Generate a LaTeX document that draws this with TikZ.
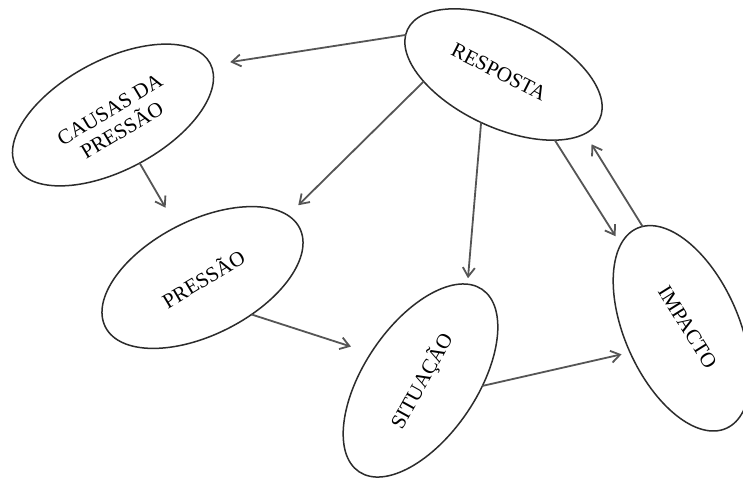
\documentclass[tikz,border=0pt]{standalone}
\usepackage{fontspec}
\setmainfont{Liberation Serif}
\usetikzlibrary{arrows.meta,shapes.geometric}
\definecolor{rim}{HTML}{2B2B2B}
\definecolor{flowgray}{HTML}{555555}
\begin{document}
\begin{tikzpicture}[x=1pt,y=-1pt,
  bubble/.style={ellipse,draw=rim,line width=1.5pt,inner sep=0pt,outer sep=0pt},
  caption/.style={font=\fontsize{21}{24}\selectfont,align=center,text=black,inner sep=0pt},
  flow/.style={draw=flowgray,line width=1.8pt,-{Straight Barb[length=9pt,width=12pt]}}]

% page frame
\path[use as bounding box,fill=white] (0,0) rectangle (743,477);
\clip (0,0) rectangle (743,477);

% ellipses
\node[bubble,minimum width=220pt,minimum height=110pt,rotate=28]  (causes)   at (113,115)     {};
\node[bubble,minimum width=212pt,minimum height=106pt,rotate=-25] (answer)   at (503.5,74.5)  {};
\node[bubble,minimum width=218pt,minimum height=114pt,rotate=27]  (pressure) at (202.5,277.5) {};
\node[bubble,minimum width=220pt,minimum height=113pt,rotate=56]  (state)    at (420.5,380.5) {};
\node[bubble,minimum width=219pt,minimum height=114pt,rotate=-66] (impact)   at (681.7,328.3) {};

% labels
\node[caption,rotate=31]  (causesT)   at (116,120) {CAUSAS DA\\PRESSÃO};
\node[caption,rotate=-27] (answerT)   at (499,72)  {RESPOSTA};
\node[caption,rotate=31]  (pressureT) at (203,278) {PRESSÃO};
\node[caption,rotate=61]  (stateT)    at (422,381) {SITUAÇÃO};
\node[caption,rotate=-58] (impactT)   at (687.5,327.3) {IMPACTO};

% connectors
\draw[flow,shorten >=19.5pt] (answer.183)   -- (causes.-1.4);
\draw[flow,shorten >=14.5pt] (answer.210.6) -- (pressure.9);
\draw[flow,shorten >=6pt]    (answer.270.6) -- (state.8.7);
\draw[flow,shorten >=9.7pt]  (answer.-27.2) -- (impact.192.9);
\draw[flow,shorten >=12.5pt] (impact.177.5) -- (answer.-11.9);
\draw[flow,shorten >=22pt]   (causes.271)   -- (pressure.90);
\draw[flow,shorten >=21pt]   (pressure.-64.5) -- (state.95.8);
\draw[flow,shorten >=8.7pt]  (state.-61.7)  -- (impact.271.7);
\end{tikzpicture}
\end{document}
